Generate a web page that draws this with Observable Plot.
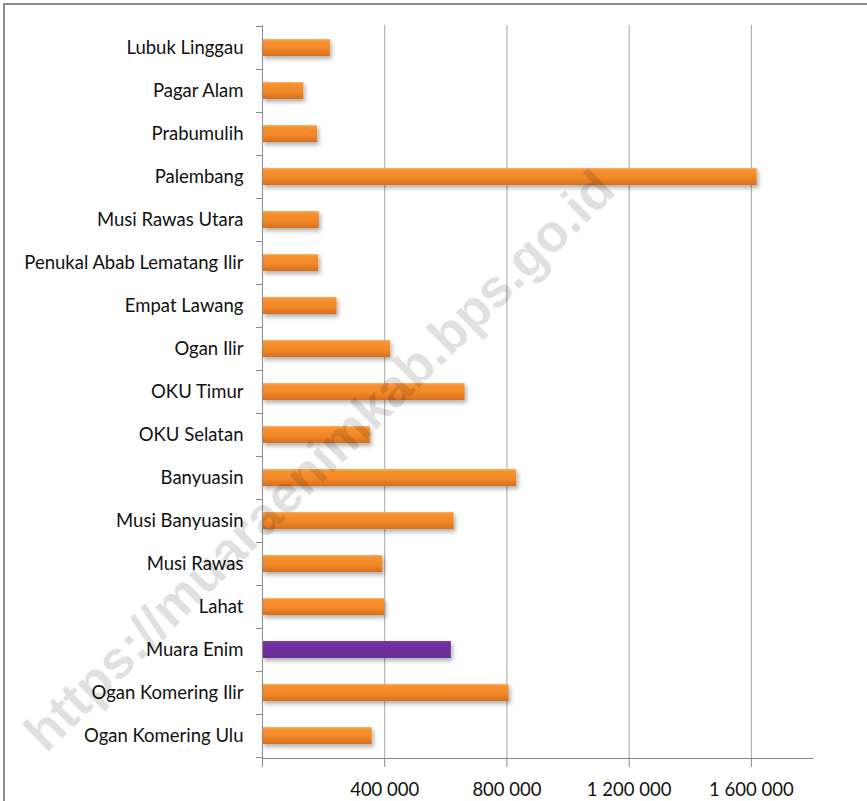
<!DOCTYPE html>
<html>
<head>
<meta charset="utf-8">
<script src="https://cdn.jsdelivr.net/npm/d3@7"></script>
<script src="https://cdn.jsdelivr.net/npm/@observablehq/plot@0.6"></script>
<style>
  html, body { margin: 0; padding: 0; background: #fff; overflow: hidden; }
  #wrap { position: relative; width: 867px; height: 801px; }
  #border { position: absolute; left: 3px; top: 3px; width: 880px; height: 820px;
            border-left: 2px solid #8a8a8a; border-top: 2px solid #8a8a8a; pointer-events: none; }
  #watermark { position: absolute; left: 319px; top: 460px; white-space: nowrap;
               transform: translate(-50%, -50%) rotate(-44.5deg);
               font-family: "Liberation Sans", Arial, sans-serif; font-weight: bold; font-size: 53px;
               color: rgba(0,0,0,0.12); pointer-events: none; }
</style>
</head>
<body>
<div id="wrap"><div id="chart"></div><div id="border"></div><div id="watermark">https://muaraenimkab.bps.go.id</div></div>
<script>
// Regions, top to bottom as shown
const regions = [
  "Lubuk Linggau", "Pagar Alam", "Prabumulih", "Palembang", "Musi Rawas Utara",
  "Penukal Abab Lematang Ilir", "Empat Lawang", "Ogan Ilir", "OKU Timur", "OKU Selatan",
  "Banyuasin", "Musi Banyuasin", "Musi Rawas", "Lahat", "Muara Enim",
  "Ogan Komering Ilir", "Ogan Komering Ulu"
];
const values = [
  222000, 135000, 180000, 1619000, 186000,
  184000, 244000, 419000, 663000, 353000,
  832000, 627000, 394000, 400000, 618000,
  807000, 359000
];
const highlight = "Muara Enim";
const xTicks = [0, 400000, 800000, 1200000, 1600000];
const xMax = 1800000;

const data = regions.map((name, i) => ({name, value: values[i]}));
const fmt = d => d3.format(",")(d).replace(/,/g, " ");
const font = "Lato, 'Open Sans', sans-serif";

const boundaryTicks = (index, scales, vals, dims) => {
  const y = scales.y;
  const step = y(regions[1]) - y(regions[0]);
  const bw = y.bandwidth ? y.bandwidth() : step * 0.4;
  const off = (step - bw) / 2;
  const ys = regions.map(r => y(r) - off);
  ys.push(y(regions[regions.length - 1]) + bw + off);
  const g = d3.create("svg:g").attr("stroke", "#8a8a8a").attr("stroke-width", 1);
  const x0 = dims.marginLeft;
  for (const yy of ys) {
    g.append("line").attr("x1", x0 - 6).attr("x2", x0).attr("y1", Math.round(yy) + 0.5).attr("y2", Math.round(yy) + 0.5);
  }
  return g.node();
};

const chart = Plot.plot({
  width: 867,
  height: 801,
  marginLeft: 262,
  marginTop: 25,
  marginRight: 55,
  marginBottom: 43,
  style: {fontFamily: font, background: "transparent"},
  x: {domain: [0, xMax]},
  y: {domain: regions, paddingInner: 0.6, paddingOuter: 0.3},
  marks: [
    Plot.ruleX(xTicks.filter(d => d > 0), {stroke: "#a6a6a6", strokeWidth: 1, strokeOpacity: 1}),
    Plot.barX(data, {filter: d => d.name !== highlight, x: "value", y: "name", fill: "url(#gOrange)"}),
    Plot.barX(data, {filter: d => d.name === highlight, x: "value", y: "name", fill: "url(#gPurple)"}),
    Plot.ruleX([0], {stroke: "#8a8a8a", strokeWidth: 1}),
    Plot.frame({anchor: "bottom", stroke: "#8a8a8a", strokeWidth: 1}),
    boundaryTicks,
    Plot.axisY({tickSize: 0, tickPadding: 19, fontSize: 18.5, fill: "#111", label: null}),
    Plot.axisX({ticks: xTicks, tickSize: 9, tickPadding: 15, fontSize: 18.5, stroke: "#8a8a8a", fill: "#111",
                tickFormat: d => d === 0 ? "" : fmt(d), label: null})
  ]
});

const svg = d3.select(chart);
const defs = svg.insert("defs", ":first-child");
const go = defs.append("linearGradient").attr("id", "gOrange").attr("x1", 0).attr("x2", 0).attr("y1", 0).attr("y2", 1);
go.append("stop").attr("offset", "0%").attr("stop-color", "#fbb16a");
go.append("stop").attr("offset", "12%").attr("stop-color", "#f9922e");
go.append("stop").attr("offset", "60%").attr("stop-color", "#f08728");
go.append("stop").attr("offset", "100%").attr("stop-color", "#d66f1e");
const gp = defs.append("linearGradient").attr("id", "gPurple").attr("x1", 0).attr("x2", 0).attr("y1", 0).attr("y2", 1);
gp.append("stop").attr("offset", "0%").attr("stop-color", "#7d44ab");
gp.append("stop").attr("offset", "12%").attr("stop-color", "#7030a0");
gp.append("stop").attr("offset", "100%").attr("stop-color", "#6a2d99");
const f = defs.append("filter").attr("id", "shadow").attr("x", "-10%").attr("y", "-50%").attr("width", "130%").attr("height", "250%");
f.append("feDropShadow").attr("dx", 2).attr("dy", 3).attr("stdDeviation", 2).attr("flood-color", "#000").attr("flood-opacity", 0.3);
svg.selectAll("g[aria-label='bar'] rect").attr("filter", "url(#shadow)");

document.getElementById("chart").appendChild(chart);
</script>
</body>
</html>
